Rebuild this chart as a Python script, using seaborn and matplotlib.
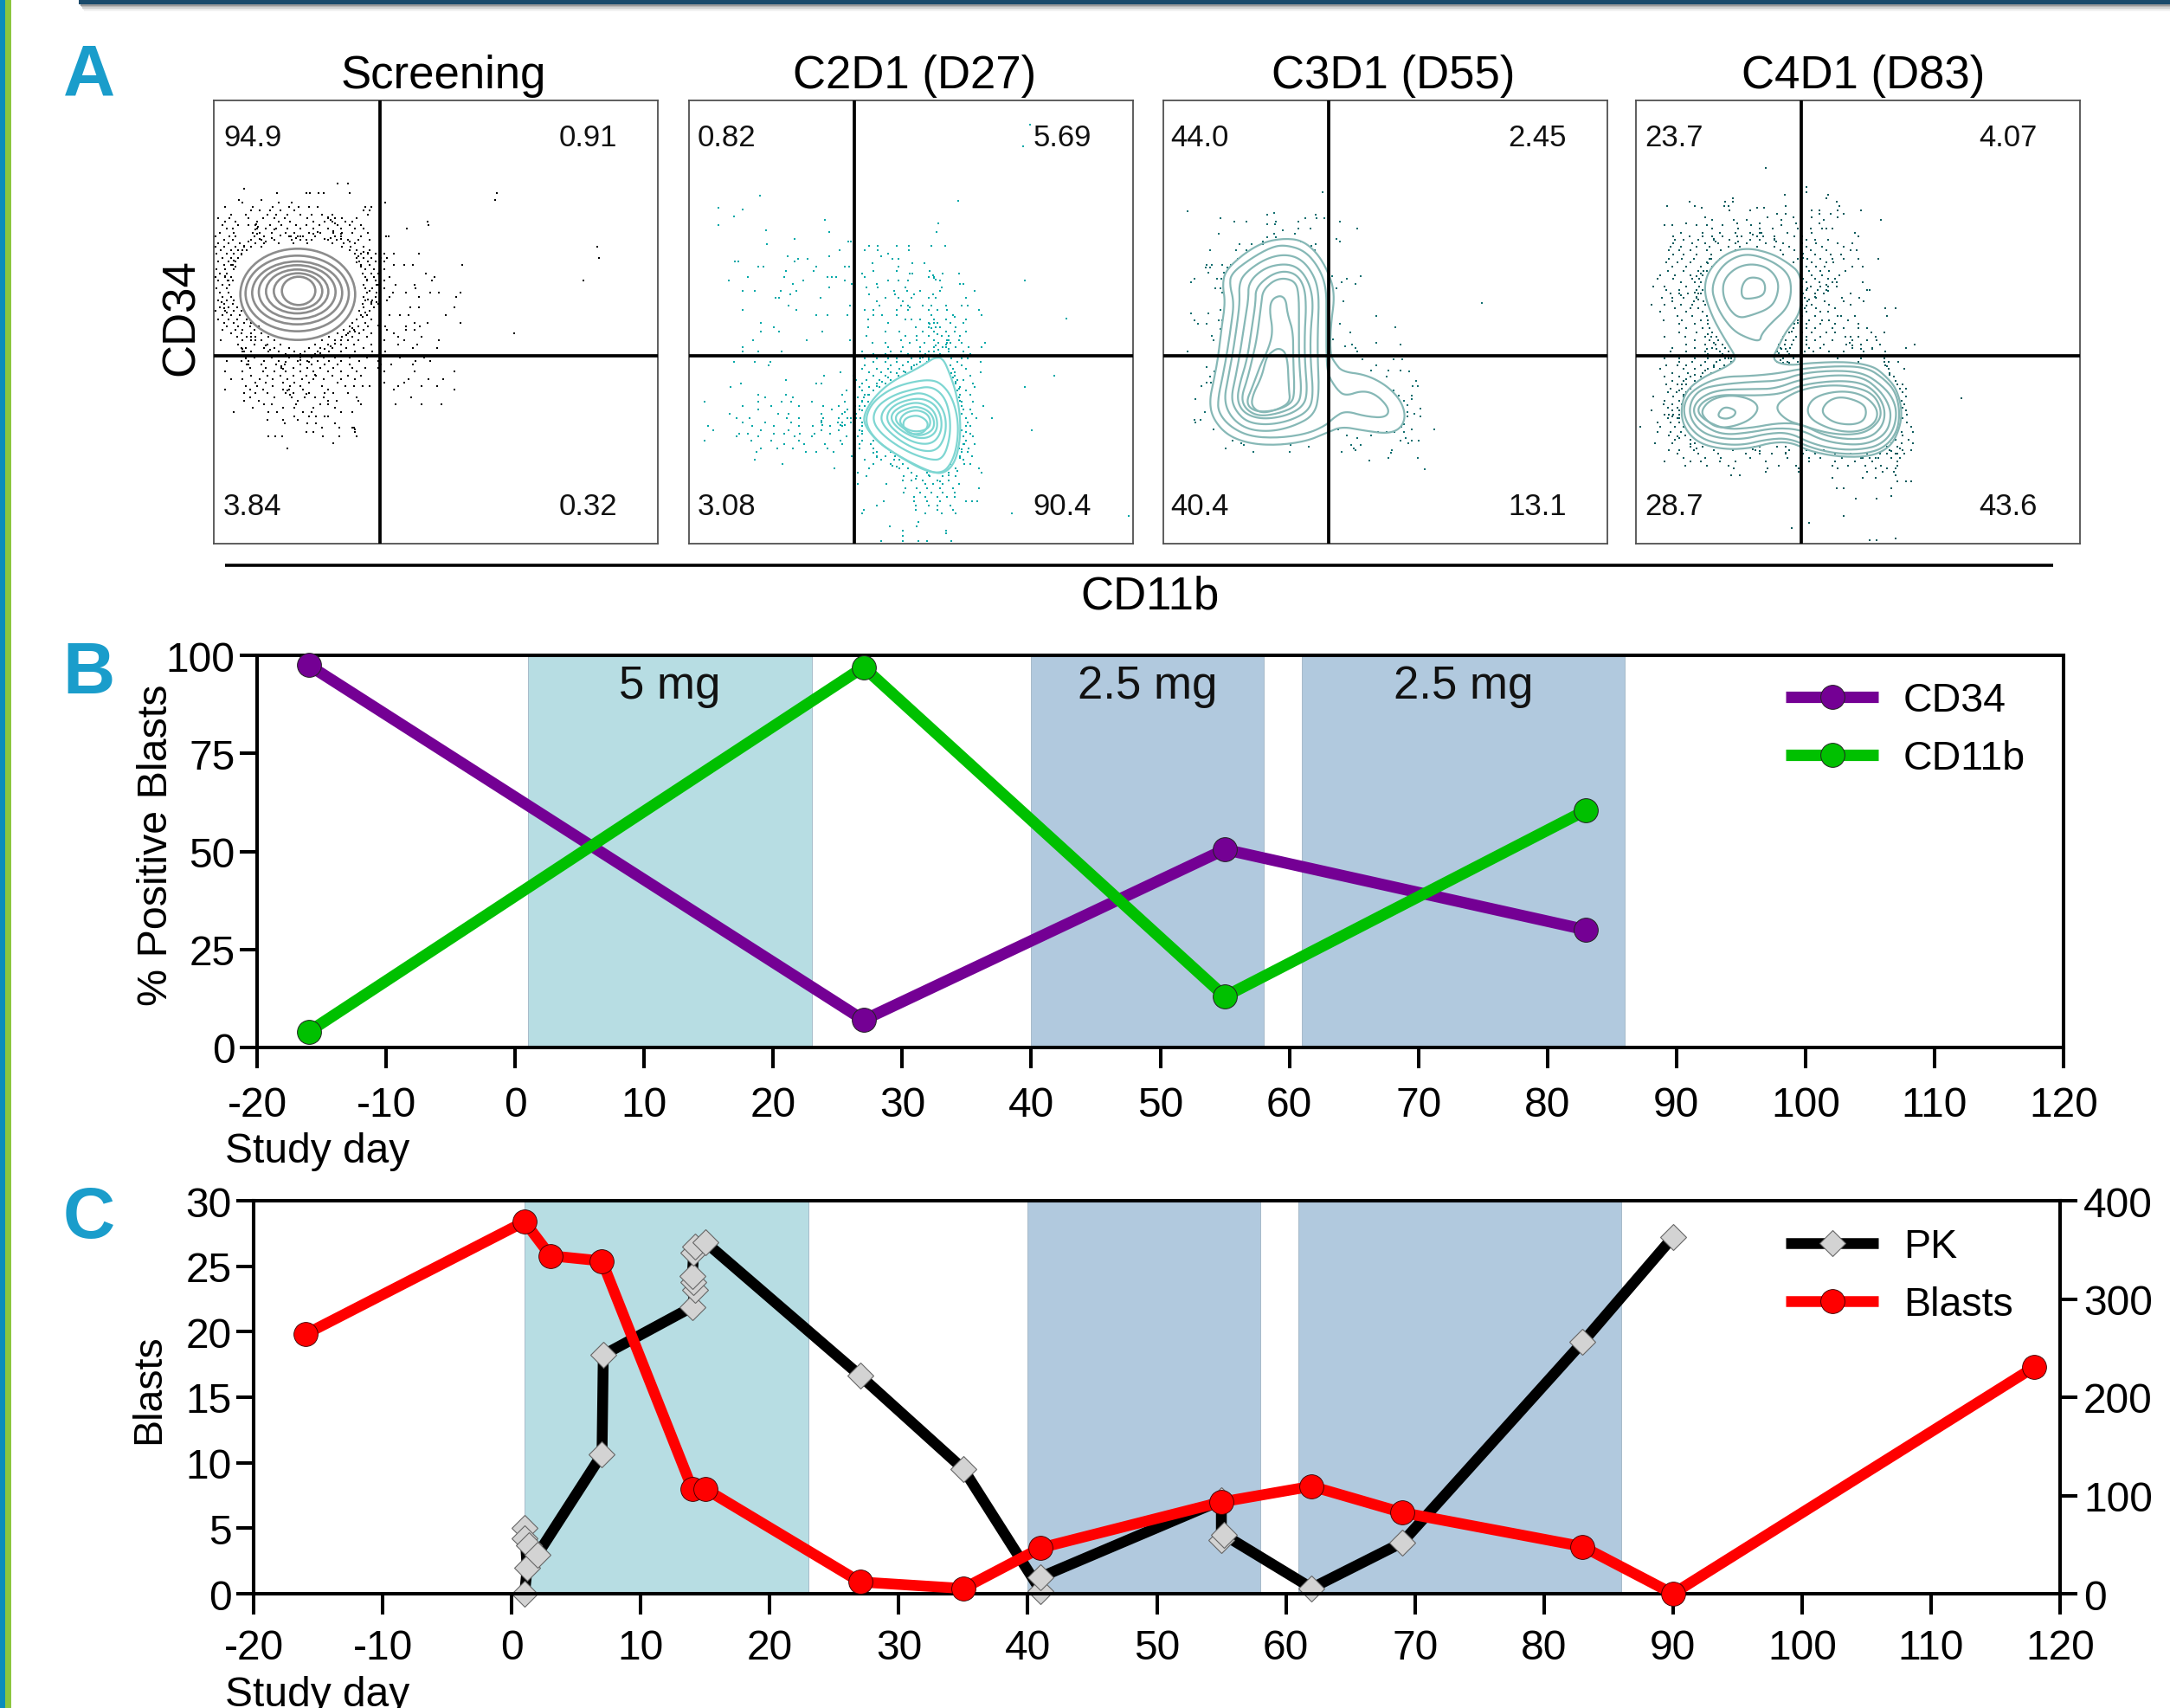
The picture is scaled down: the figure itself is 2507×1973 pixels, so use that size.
import numpy as np
import pandas as pd
import matplotlib
matplotlib.use("Agg")
import matplotlib.pyplot as plt
from matplotlib.lines import Line2D
from matplotlib.patches import Rectangle, Ellipse, FancyBboxPatch
import seaborn as sns

W, H = 2507, 1974
FONT = "Liberation Sans"

# ---------- panel B / C data ----------
TICK_DAYS = list(range(-20, 121, 10))
B_DAYS = [-16, 27, 55, 83]
CD34 = [97.5, 7, 50.5, 30]
CD11B = [4, 97, 13, 60.5]

BLAST_DAYS = [-16, 1, 3, 7, 14, 15, 27, 35, 41, 55, 62, 69, 83, 90, 118]
BLASTS = [19.8, 28.4, 25.8, 25.4, 8.0, 8.0, 0.9, 0.4, 3.5, 7.0, 8.2, 6.2, 3.6, 0.0, 17.3]

PK_DAYS = [1, 1.2, 1, 1, 1.3, 2, 7, 7.1, 14, 14.2, 14.1, 14, 14.1, 14.2, 15, 27, 35, 41, 41, 55, 55, 55.2, 62, 69, 83, 90]
PK = [0, 26, 67, 56, 49, 40, 142, 243, 292, 309, 317, 323, 347, 353, 358, 222, 127, 3, 17, 95, 55, 60, 5.7, 52, 256, 363]

DOSE_SPANS = [(1, 23), (40, 58), (61, 86)]
DOSE_COLORS = ["#b7dde3", "#b1c9de", "#b1c9de"]
DOSE_LABELS = ["5 mg", "2.5 mg", "2.5 mg"]
DOSE_LABEL_X = [12, 49, 73.5]

# ---------- panel A data (positions in a 1539 x 1536 plot frame) ----------
TITLES = ["Screening", "C2D1 (D27)", "C3D1 (D55)", "C4D1 (D83)"]
QUAD_TEXT = [["94.9", "0.91", "3.84", "0.32"],
             ["0.82", "5.69", "3.08", "90.4"],
             ["44.0", "2.45", "40.4", "13.1"],
             ["23.7", "4.07", "28.7", "43.6"]]

SCREEN_RINGS = [(291, 672, 199, 158), (289, 669, 179, 131), (289, 667, 156, 109), (289, 664, 133, 93),
                (289, 662, 108, 76), (292, 661, 84, 62), (294, 660, 58, 49)]

SCREEN_DOTS = {288: [428, 465], 305: [105], 322: [218, 320, 332, 363, 380, 470, 980], 345: [88, 165, 975],
    355: [100, 225, 270, 595], 370: [38, 135, 205, 260, 295, 330, 360, 525, 545], 382: [130, 160, 195, 230, 280, 520, 540],
    395: [60, 110, 185, 215, 255, 300, 340, 375, 410, 535], 408: [15, 55, 120, 170, 210, 245, 325, 395, 420, 445, 495],
    420: [40, 75, 150, 225, 265, 345, 385, 410, 455, 480, 740], 432: [30, 85, 120, 145, 195, 235, 285, 320, 365, 430, 470, 510, 745],
    445: [45, 65, 150, 180, 215, 255, 300, 345, 395, 440, 490, 520, 668], 458: [20, 70, 135, 160, 200, 250, 280, 330, 370, 415, 445, 480, 535],
    470: [5, 55, 75, 140, 175, 260, 290, 310, 350, 420, 440, 510, 598, 605], 482: [35, 65, 130, 165, 210, 270, 300, 340, 395, 425, 465, 500, 540],
    494: [15, 50, 90, 145, 175, 225, 275, 325, 410, 450, 490], 506: [5, 35, 75, 105, 130, 165, 445, 475, 520, 1328],
    518: [25, 60, 100, 115, 470, 495, 540], 530: [10, 45, 70, 95, 490, 510, 535, 560, 590, 625, 710],
    545: [30, 60, 85, 495, 520, 545, 580, 600, 1335], 558: [15, 50, 75, 505, 535, 560, 590], 570: [35, 65, 510, 540, 625, 660, 690, 860],
    585: [10, 40, 70, 525, 555, 590], 600: [20, 45, 515, 545, 570, 735], 612: [5, 40, 60, 525, 555, 610, 765],
    624: [15, 50, 65, 530, 560, 590, 755, 1280], 640: [30, 55, 520, 565, 630, 695], 652: [10, 45, 525, 550, 590, 700],
    665: [20, 50, 530, 565, 620, 665, 750, 780, 855], 680: [30, 60, 520, 560, 610, 710, 840], 692: [15, 45, 70, 525, 550, 600],
    705: [35, 65, 515, 545, 570], 718: [20, 50, 80, 520, 555, 680, 710, 835], 730: [5, 40, 70, 95, 505, 540, 575],
    745: [30, 60, 90, 510, 530, 610, 645, 675, 805], 758: [15, 50, 80, 115, 495, 545], 770: [35, 70, 105, 130, 480, 525, 695, 740, 855],
    782: [45, 85, 125, 155, 470, 500, 535, 595, 665, 715], 795: [30, 75, 100, 140, 450, 485, 520, 600, 665, 695],
    808: [60, 95, 130, 165, 430, 465, 505, 545, 625, 1040], 820: [80, 115, 145, 190, 400, 445, 480, 530, 640, 720],
    832: [25, 100, 130, 165, 210, 375, 420, 465, 500, 590, 660, 780], 845: [85, 140, 185, 230, 350, 395, 440, 485, 545, 640, 705],
    858: [95, 110, 175, 210, 260, 330, 370, 410, 460, 520, 690, 775], 870: [100, 130, 190, 225, 280, 315, 360, 400, 440, 490, 550, 595],
    890: [110, 140, 200, 260, 300, 340, 380, 420, 470, 530, 645, 730], 902: [45, 95, 120, 175, 225, 290, 325, 360, 400, 440, 505, 570, 700, 750],
    915: [115, 165, 215, 245, 300, 340, 385, 430, 470, 580, 615, 690], 928: [125, 180, 235, 275, 325, 370, 415, 480, 525, 570],
    940: [40, 100, 170, 210, 250, 300, 345, 395, 440, 495, 590, 695, 835], 953: [130, 185, 230, 275, 320, 355, 410, 465, 510],
    966: [60, 100, 160, 205, 255, 305, 345, 380, 440, 490, 675, 745, 795], 978: [145, 180, 240, 280, 330, 430, 590, 660],
    990: [110, 150, 205, 265, 300, 375, 455, 485, 515, 540, 640, 720, 775], 1002: [40, 125, 170, 240, 260, 310, 395, 625, 835],
    1015: [105, 145, 185, 250, 275, 330, 385, 415, 465], 1028: [125, 210, 270, 315, 350, 380, 495, 685], 1040: [105, 155, 290, 395, 425, 500],
    1052: [175, 200, 285, 370, 395, 510, 630, 720, 790], 1066: [135, 240, 280, 345, 420], 1080: [70, 190, 220, 310, 340, 440, 480],
    1095: [280, 330, 355, 385, 395], 1108: [185, 240, 290], 1120: [245, 325, 355, 420], 1135: [375, 435, 485], 1150: [320, 345, 490],
    1165: [190, 212, 236, 378, 435, 495], 1188: [415], 1205: [255]}

SCREEN_EXTRA = [(148, 428), (152, 438), (145, 446), (210, 448), (232, 468), (268, 472), (285, 476), (300, 470), (345, 462), (360, 455), (415, 452), (440, 462), (405, 478), (385, 480), (150, 462), (160, 480), (180, 488), (200, 478), (320, 482), (440, 480), (470, 490), (395, 405), (405, 415), (420, 425), (120, 488), (105, 505), (85, 520), (95, 535), (70, 555), (60, 570), (75, 575), (40, 610), (48, 625), (55, 640), (35, 720), (45, 735), (28, 700), (500, 540), (520, 525), (535, 528), (495, 560), (510, 575), (530, 620), (540, 660), (535, 690), (545, 700), (525, 735), (515, 750), (480, 790), (490, 800), (470, 800), (460, 812), (440, 830), (420, 842), (405, 852), (385, 862), (370, 875), (350, 880), (130, 820), (145, 830), (100, 860), (105, 870), (180, 850), (195, 865), (210, 885), (250, 880), (300, 880), (250, 905), (235, 920), (300, 900), (330, 905), (110, 895), (120, 915), (255, 1005), (265, 1020), (320, 1018), (480, 1135), (490, 1140), (240, 930), (350, 950), (570, 640), (565, 700), (570, 780), (575, 610)]

C2_DOTS = {85: [1182], 160: [1158], 330: [245], 348: [932], 372: [102], 378: [185], 402: [155], 415: [470], 425: [865], 432: [102],
    450: [268], 455: [485, 858], 480: [365], 490: [552, 560], 497: [270], 505: [625, 655, 720, 762, 840, 888], 518: [522, 610, 655, 762],
    530: [690], 540: [342, 485, 665], 550: [378, 410, 705, 725], 558: [160, 172, 365], 565: [635, 775, 815], 575: [240, 258, 442, 540, 555, 725],
    590: [335, 432, 638, 720, 835], 600: [600, 765, 775, 880, 935], 612: [205, 330, 480, 495, 510, 610, 830, 850], 625: [138, 395, 540, 690, 725, 760, 870, 1165],
    635: [360, 565, 650, 940, 950], 648: [485, 615, 655, 750, 875], 660: [185, 228, 318, 372, 710, 755, 800, 870, 990], 672: [350, 625, 715, 780, 845],
    685: [300, 312, 455, 680, 725, 770, 830, 855, 960], 695: [650, 740], 710: [345, 558, 660, 735, 760, 810, 840, 890, 945, 965],
    725: [185, 372, 610, 640, 720, 760, 830, 860, 895, 1005], 745: [440, 480, 550, 640, 670, 720, 840, 915, 1015], 757: [1307],
    760: [620, 750, 770, 800, 850, 890, 960], 770: [250, 690, 830, 860, 905, 950], 785: [295, 620, 785, 830, 870, 925],
    800: [250, 312, 462, 680, 730, 810, 850, 890, 920, 960], 815: [615, 750, 790, 830, 875, 900, 940], 830: [222, 408, 558, 735, 790, 850, 900, 935],
    840: [635, 680, 765, 815, 865, 895, 945, 1025], 855: [185, 690, 740, 800, 850, 890, 925, 970, 1015], 870: [185, 240, 320, 600, 700, 735, 800, 830, 900, 950],
    878: [640, 680, 760, 870, 975], 895: [610, 650, 690, 720, 770, 800, 830, 910, 945, 965], 905: [155, 228, 282, 640, 680, 720, 760, 825, 930, 1010],
    918: [275, 610, 700, 740, 780, 810, 905, 945], 930: [600, 650, 690, 730, 770, 915, 960], 942: [525, 625, 665, 700, 750, 920, 1010],
    955: [468, 570, 640, 680, 725, 920, 975, 1265], 968: [335, 580, 615, 660, 700, 930, 950], 980: [180, 440, 460, 600, 650, 680, 925, 985],
    992: [145, 590, 625, 660, 940, 990, 1165], 1005: [545, 600, 640, 930, 960], 1020: [240, 335, 530, 610, 625, 940, 975], 1030: [265, 360, 585, 605, 935],
    1045: [55, 240, 320, 355, 425, 540, 600, 620, 945, 985], 1060: [185, 285, 380, 465, 520, 575, 610, 945, 1020], 1072: [240, 495, 550, 590, 950, 975],
    1085: [140, 310, 345, 460, 530, 580, 945, 980], 1100: [165, 210, 340, 380, 465, 520, 560, 595, 960, 995, 1050], 1115: [185, 265, 355, 460, 515, 560, 600, 965],
    1128: [65, 220, 295, 380, 430, 490, 530, 600, 960, 975], 1142: [85, 250, 345, 460, 520, 590, 945, 1187], 1155: [175, 205, 295, 330, 385, 435, 490, 600, 975],
    1165: [165, 240, 365, 425, 545, 585, 950, 985], 1180: [55, 215, 285, 380, 525, 600, 640, 960], 1192: [330, 400, 470, 530, 590, 630, 955, 990],
    1205: [250, 305, 360, 480, 590, 640, 935, 970], 1218: [235, 405, 440, 500, 650, 700, 945, 965], 1232: [565, 650, 680, 715, 940, 980],
    1245: [228, 610, 665, 710, 730, 950], 1260: [325, 640, 700, 740, 905, 975], 1275: [505, 625, 730, 760, 925, 1005], 1290: [585, 770, 825, 900, 1015],
    1303: [615, 745, 790, 835, 880, 925], 1318: [740, 770, 810, 860, 900], 1330: [585, 685, 820, 845, 880, 935], 1345: [750, 790, 825, 870, 915, 1005],
    1360: [745, 800, 840, 880, 920], 1375: [780, 820, 860, 895, 920], 1390: [675, 780, 825, 870, 960, 980, 1000], 1405: [650, 785, 830, 860, 905],
    1418: [605, 785, 860, 915], 1432: [600, 820, 875, 925, 1120], 1440: [1525], 1462: [795], 1475: [695, 790], 1490: [740, 890], 1500: [890], 1510: [740],
    1528: [665, 740, 795, 825, 910]}

C2_EXTRA = [(850, 770), (855, 785), (835, 775), (840, 790), (850, 800), (860, 810), (895, 830), (905, 840), (890, 845), (880, 855), (900, 860), (855, 850), (865, 865), (850, 870), (820, 880), (810, 890), (830, 900), (800, 905), (790, 915), (770, 925), (745, 940), (720, 945), (690, 960), (670, 975), (650, 990), (640, 1005), (620, 1020), (600, 1040), (590, 1060), (600, 1075), (580, 1100), (600, 1145), (590, 1190), (640, 1220), (650, 1235), (705, 1265), (720, 1270), (770, 1290), (785, 1310), (830, 1300), (870, 1320), (900, 1300), (930, 1285), (955, 1260), (940, 1240), (945, 1210), (950, 1190), (960, 1150), (945, 1060), (940, 1040), (935, 1000), (925, 975), (915, 960), (910, 945), (540, 1080), (550, 1100), (530, 1115), (525, 1125), (540, 1125), (460, 1110), (462, 1125), (915, 745), (920, 750), (850, 615), (845, 605), (855, 620), (760, 712), (765, 718)]

C3_DOTS = {318: [552], 385: [84], 390: [383], 395: [360, 528], 408: [198, 492, 532, 558], 420: [246, 288, 390, 468, 612], 430: [360, 388],
    445: [468, 510, 672], 450: [414], 462: [192, 384, 456], 475: [360, 390], 480: [600], 490: [345, 478, 612], 497: [264, 306, 345, 528], 505: [514],
    520: [162, 252, 288, 525], 550: [258], 570: [150, 168, 204, 235], 580: [148, 162, 222], 598: [156, 210], 610: [586, 684], 618: [108, 186, 202, 636],
    630: [96, 618], 635: [665], 650: [180, 198, 600], 665: [205], 695: [624], 702: [1104], 725: [198], 738: [96, 156], 748: [738], 762: [108, 192, 205],
    775: [120, 150, 612], 785: [803], 792: [198], 803: [648], 815: [168], 828: [588], 832: [174], 840: [738], 845: [654, 822], 852: [630], 858: [666],
    870: [84, 672], 898: [690, 798, 828], 918: [738], 925: [150], 935: [720, 780, 822], 940: [176, 852], 958: [162, 775], 972: [875], 978: [150, 165],
    990: [132, 865, 882], 1005: [798], 1022: [815, 860], 1035: [110, 862], 1040: [835], 1055: [845], 1068: [892], 1080: [145, 845], 1085: [870],
    1095: [845, 892], 1108: [108, 130], 1115: [112], 1122: [835], 1130: [825], 1140: [175, 605, 862, 940], 1150: [745, 775, 800, 835], 1160: [635, 720],
    1170: [672, 840], 1180: [240, 822, 862, 885], 1188: [270, 850], 1195: [280, 440, 650, 684], 1200: [505], 1206: [216, 660], 1212: [665, 792],
    1218: [312, 438, 618], 1222: [790], 1238: [780, 882], 1248: [714], 1278: [906]}

C4_DOTS = {233: [450], 300: [592], 318: [590], 328: [515, 665], 338: [335, 660], 352: [185, 310, 335, 695], 365: [108, 205, 305, 320, 518, 705],
    372: [228, 420, 445], 380: [325, 395, 610, 635, 700, 780], 392: [490, 520, 635, 675, 720], 405: [240, 455, 545, 610, 700], 415: [265, 340, 385, 505, 650, 850],
    425: [175, 350, 430, 555, 635], 432: [100, 125, 210, 245, 300, 400, 505], 445: [265, 355, 430, 475, 560, 605, 645, 660, 680],
    458: [155, 230, 290, 345, 395, 435, 525, 610, 760], 470: [130, 185, 230, 265, 300, 365, 420, 480, 550, 770],
    482: [135, 165, 215, 270, 325, 395, 430, 480, 590, 620, 665], 495: [130, 195, 240, 285, 345, 385, 450, 510, 575, 625, 700, 750],
    508: [120, 155, 210, 255, 320, 360, 420, 480, 530, 590, 645, 720], 520: [115, 150, 190, 245, 295, 345, 500, 550, 605, 660, 745, 765],
    535: [130, 165, 210, 260, 510, 575, 620, 675, 710], 548: [115, 160, 200, 255, 290, 560, 595, 640, 680, 720, 770, 840],
    560: [105, 145, 190, 245, 280, 545, 610, 660, 685], 575: [125, 175, 225, 265, 590, 625, 655, 750, 785], 590: [110, 165, 215, 245, 600, 640, 670, 725],
    605: [85, 135, 190, 230, 570, 610, 645, 705], 618: [75, 130, 195, 220, 580, 620, 665, 690], 630: [155, 205, 225, 590, 635, 680, 785],
    645: [60, 100, 175, 220, 575, 605, 640, 665, 695], 658: [105, 150, 210, 230, 590, 630, 660, 800, 810], 670: [120, 180, 215, 225, 580, 620, 650, 745],
    685: [90, 125, 165, 210, 585, 625, 715, 775], 695: [125, 200, 235, 595, 655, 720, 790], 708: [55, 100, 155, 195, 240, 575, 610, 670, 745],
    720: [135, 190, 215, 585, 625, 690, 865, 900], 732: [85, 175, 230, 590, 640, 665], 748: [145, 195, 245, 575, 620, 700, 710, 760, 870],
    762: [95, 160, 225, 250, 560, 600, 645, 670, 735], 775: [150, 205, 250, 550, 590, 640, 690, 770], 790: [175, 230, 255, 545, 590, 620, 680, 720, 770, 800],
    805: [150, 210, 265, 530, 575, 610, 660, 690, 815, 860], 818: [100, 170, 240, 280, 510, 555, 590, 640, 725, 745, 770, 830],
    830: [205, 255, 285, 505, 545, 590, 620, 680, 750, 800, 835], 845: [175, 240, 275, 300, 495, 540, 590, 650, 730, 780, 845, 965],
    858: [125, 205, 265, 310, 500, 535, 600, 640, 750, 820, 935], 870: [120, 175, 240, 290, 320, 490, 525, 585, 615, 670, 720, 790, 865],
    895: [100, 150, 205, 250, 310, 330, 480, 510, 545, 700, 780, 860], 905: [150, 195, 240, 280, 330, 490, 525, 560, 770, 875, 910],
    918: [105, 145, 175, 225, 270, 305, 865], 930: [85, 165, 205, 250, 290, 875, 930], 945: [125, 180, 230, 260, 880], 958: [100, 150, 190, 225, 895],
    972: [125, 165, 205, 900], 985: [105, 145, 175, 905, 925], 998: [120, 160, 190, 915, 935], 1012: [110, 140, 175, 925], 1025: [60, 130, 165, 935],
    1032: [1128], 1040: [100, 150, 920], 1052: [95, 125, 160, 930], 1065: [110, 145, 925], 1075: [55, 125, 150, 935], 1088: [100, 130, 150, 940],
    1100: [110, 145, 925], 1115: [75, 120, 150, 940], 1130: [15, 85, 135, 165, 955], 1148: [75, 120, 155, 920, 960], 1160: [115, 170, 925],
    1175: [135, 190, 900, 945], 1188: [65, 125, 205, 885, 920, 960], 1200: [190, 230, 410, 430, 490, 520, 870, 905],
    1212: [115, 150, 200, 270, 335, 415, 530, 590, 650, 880, 925, 955], 1225: [145, 215, 285, 380, 430, 470, 520, 575, 620, 690, 745, 800, 845, 900, 930],
    1238: [165, 240, 295, 395, 525, 600, 640, 715, 785, 830, 885, 915], 1250: [100, 190, 225, 290, 345, 450, 600, 690, 760, 820, 905],
    1265: [170, 245, 320, 495, 555, 680, 735, 795, 850, 905], 1275: [340, 455, 565, 700, 830, 870, 900], 1288: [450, 565, 800, 855, 895], 1300: [330, 360, 900],
    1308: [680, 785, 830], 1320: [905, 935, 955], 1345: [695, 720, 885], 1372: [885], 1380: [762, 835], 1440: [720], 1465: [600], 1482: [540], 1518: [900], 1525: [810, 835]}

C4_EXTRA = [(150, 670), (155, 675), (205, 665), (210, 680), (215, 690), (260, 550), (250, 565), (235, 590), (225, 600), (210, 610), (270, 480), (275, 490), (350, 470), (355, 490), (405, 465), (430, 460), (440, 470), (480, 480), (485, 490), (575, 470), (580, 530), (578, 545), (590, 630), (595, 650), (600, 690), (590, 710), (585, 720), (620, 680), (660, 640), (665, 660), (680, 630), (695, 630), (650, 670), (560, 770), (540, 800), (520, 830), (515, 845), (505, 860), (495, 875), (520, 860), (530, 880), (545, 890), (500, 900), (510, 910), (530, 910), (250, 810), (260, 820), (270, 840), (280, 860), (245, 860), (250, 880), (300, 880), (320, 895), (290, 900), (270, 925), (240, 935), (205, 950), (175, 965), (160, 985), (150, 1005), (165, 1020), (125, 1095), (115, 1090), (150, 1100), (145, 1165), (150, 1170), (190, 1190), (210, 1205), (335, 1210), (405, 1210), (430, 1215), (520, 1222), (580, 1225), (780, 1240), (810, 1240), (840, 1240), (870, 1225), (885, 1215), (905, 1225), (915, 1205), (920, 1150), (925, 1160), (860, 905), (870, 920), (880, 950), (740, 840), (820, 860), (780, 860), (750, 850)]

C2_CONTOURS = [
    [(850, 892), (880, 892), (905, 950), (925, 1010), (940, 1090), (940, 1180), (920, 1260), (880, 1295), (830, 1285), (740, 1240), (660, 1190), (610, 1130), (605, 1090), (640, 1030), (700, 975), (790, 930), (830, 905)],
    [(845, 965), (890, 995), (920, 1050), (935, 1130), (925, 1220), (895, 1280), (860, 1292), (810, 1280), (730, 1235), (650, 1180), (610, 1120), (625, 1060), (680, 1010), (750, 980)],
    [(840, 990), (885, 1025), (905, 1090), (905, 1170), (880, 1245), (830, 1245), (750, 1215), (670, 1160), (635, 1110), (650, 1060), (710, 1020), (780, 1000)],
    [(810, 1012), (860, 1040), (890, 1090), (890, 1160), (860, 1215), (800, 1215), (730, 1180), (670, 1125), (665, 1085), (700, 1045), (760, 1020)],
    [(800, 1030), (850, 1050), (875, 1095), (875, 1150), (845, 1190), (790, 1190), (730, 1160), (685, 1115), (690, 1075), (730, 1045)],
    [(795, 1045), (840, 1065), (860, 1100), (860, 1145), (830, 1170), (785, 1170), (735, 1145), (700, 1110), (705, 1080), (745, 1055)],
    [(790, 1060), (830, 1075), (850, 1105), (848, 1140), (815, 1160), (780, 1160), (740, 1135), (715, 1110), (720, 1085), (755, 1068)],
    [(790, 1072), (825, 1085), (838, 1110), (832, 1135), (800, 1148), (765, 1145), (735, 1125), (730, 1105), (750, 1082)],
    [(790, 1090), (820, 1105), (830, 1125), (815, 1150), (785, 1158), (755, 1150), (740, 1125), (750, 1100)],
]

C3_CONTOURS = [
    [(420, 478), (480, 485), (530, 525), (570, 590), (595, 670), (580, 780), (578, 880), (595, 910), (620, 940), (700, 950), (770, 985), (820, 1035), (840, 1090), (825, 1135), (780, 1155), (700, 1145), (620, 1130), (570, 1150), (500, 1180), (400, 1195), (300, 1190), (220, 1160), (170, 1100), (160, 1040), (175, 970), (190, 890), (200, 800), (215, 700), (205, 640), (215, 590), (280, 530), (350, 490)],
    [(420, 500), (490, 520), (540, 580), (565, 650), (565, 750), (565, 880), (570, 950), (600, 1000), (630, 1025), (690, 1005), (740, 1020), (785, 1070), (770, 1100), (700, 1095), (630, 1075), (590, 1100), (565, 1125), (500, 1155), (400, 1170), (300, 1165), (230, 1130), (190, 1080), (190, 1030), (205, 960), (220, 880), (235, 780), (245, 700), (230, 640), (235, 600), (300, 550), (370, 510)],
    [(420, 532), (480, 550), (525, 610), (540, 680), (535, 800), (535, 900), (540, 1010), (525, 1090), (450, 1130), (370, 1148), (290, 1140), (235, 1100), (210, 1040), (225, 960), (240, 880), (255, 780), (265, 700), (262, 640), (280, 600), (350, 550)],
    [(420, 565), (470, 580), (505, 630), (520, 700), (510, 800), (510, 900), (520, 1020), (505, 1075), (440, 1110), (360, 1125), (290, 1115), (250, 1075), (235, 1030), (250, 960), (265, 880), (280, 780), (295, 690), (295, 630), (350, 580)],
    [(420, 590), (465, 605), (490, 650), (495, 720), (490, 800), (490, 900), (500, 1020), (480, 1065), (420, 1095), (340, 1105), (280, 1085), (255, 1040), (265, 980), (290, 900), (305, 800), (320, 700), (320, 650), (370, 605)],
    [(420, 615), (460, 630), (470, 680), (470, 780), (470, 900), (480, 1020), (460, 1060), (400, 1085), (330, 1095), (285, 1070), (270, 1030), (290, 970), (310, 890), (325, 820), (340, 700), (345, 660), (380, 625)],
    [(405, 675), (425, 690), (430, 740), (450, 800), (450, 900), (455, 1010), (445, 1050), (390, 1075), (320, 1080), (285, 1050), (310, 990), (335, 920), (365, 860), (380, 800), (368, 730), (375, 690)],
    [(365, 880), (400, 855), (430, 880), (435, 1000), (440, 1045), (400, 1070), (340, 1085), (305, 1060), (310, 1020), (340, 960), (355, 900)],
]

C4_CONTOURS = [
    [(345, 885), (340, 905), (300, 930), (230, 960), (170, 1010), (155, 1080), (170, 1140), (220, 1190), (310, 1210), (400, 1205), (470, 1185), (540, 1185), (600, 1215), (700, 1235), (800, 1235), (860, 1215), (900, 1175), (925, 1090), (905, 1000), (860, 950), (820, 920), (730, 905), (600, 910), (540, 918), (490, 910), (475, 890), (490, 860), (520, 800), (565, 745), (575, 680), (570, 600), (530, 565), (470, 530), (385, 510), (310, 530), (250, 590), (235, 660), (260, 740), (300, 815)],
    [(390, 530), (470, 555), (530, 600), (540, 660), (525, 720), (470, 770), (435, 810), (430, 835), (390, 825), (340, 800), (300, 750), (275, 700), (262, 650), (285, 590), (330, 548)],
    [(400, 565), (460, 580), (495, 625), (490, 680), (465, 720), (400, 745), (355, 755), (320, 720), (300, 670), (305, 620), (345, 580)],
    [(405, 612), (440, 620), (450, 650), (440, 678), (395, 688), (368, 685), (365, 650), (380, 620)],
    [(290, 958), (400, 955), (500, 945), (570, 930), (700, 920), (800, 925), (860, 965), (900, 1010), (915, 1080), (905, 1150), (860, 1205), (790, 1225), (700, 1225), (610, 1205), (530, 1170), (450, 1175), (370, 1195), (280, 1190), (215, 1165), (170, 1110), (165, 1050), (200, 1000)],
    [(290, 985), (400, 975), (500, 972), (575, 945), (700, 935), (790, 945), (850, 985), (890, 1030), (905, 1085), (890, 1150), (845, 1195), (780, 1210), (700, 1210), (610, 1190), (530, 1150), (450, 1155), (370, 1175), (280, 1170), (220, 1145), (185, 1095), (190, 1040), (225, 1000)],
    [(280, 1003), (400, 1000), (480, 1000), (575, 965), (700, 950), (790, 960), (845, 1005), (875, 1050), (885, 1095), (870, 1150), (820, 1185), (750, 1195), (650, 1180), (570, 1140), (480, 1135), (400, 1150), (300, 1160), (230, 1125), (195, 1080), (215, 1035)],
    [(290, 1020), (370, 1022), (440, 1022), (510, 1015), (575, 985), (700, 970), (790, 980), (840, 1020), (865, 1075), (855, 1130), (810, 1170), (730, 1175), (650, 1160), (570, 1120), (490, 1118), (400, 1135), (310, 1140), (240, 1110), (210, 1075), (235, 1040)],
    [(330, 1020), (400, 1035), (428, 1065), (400, 1105), (340, 1130), (280, 1135), (240, 1105), (225, 1075), (260, 1035)],
    [(575, 1000), (500, 1040), (485, 1072), (525, 1110), (575, 1125), (650, 1150), (730, 1160), (800, 1150), (845, 1110), (850, 1070), (825, 1020), (770, 995), (680, 985)],
    [(710, 1005), (790, 1020), (840, 1070), (830, 1120), (770, 1150), (690, 1145), (610, 1110), (590, 1070), (620, 1025)],
    [(715, 1025), (790, 1050), (800, 1085), (785, 1115), (740, 1125), (680, 1115), (640, 1080), (665, 1040)],
    [(315, 1062), (348, 1075), (340, 1095), (310, 1105), (282, 1095), (295, 1070)],
]

DOT_COLORS = ["#000000", "#00a8a8", "#126f70", "#0a5a5c"]
LINE_COLORS = ["#8c8c8c", "#7ed6d2", "#86b8b6", "#86b6b4"]
ACCENT = "#1a9dcb"

sns.set_theme(style="white")
plt.rcParams["font.family"] = [FONT, "DejaVu Sans"]
plt.rcParams["axes.unicode_minus"] = False
plt.rcParams["lines.solid_capstyle"] = "butt"

fig = plt.figure(figsize=(W / 100, H / 100), dpi=100, facecolor="white")


def box(left, top, right, bottom):
    return [left / W, 1 - bottom / H, (right - left) / W, (bottom - top) / H]


def fx(x):
    return x / W


def fy(y):
    return 1 - y / H


def smooth(points, rounds=3):
    pts = np.array(points + points[:1], float)
    for _ in range(rounds):
        q = 0.75 * pts[:-1] + 0.25 * pts[1:]
        r = 0.25 * pts[:-1] + 0.75 * pts[1:]
        pts = np.empty((2 * len(q), 2))
        pts[0::2], pts[1::2] = q, r
        pts = np.vstack([pts, pts[:1]])
    return pts


def flat(rows, extra=()):
    xs, ys = [], []
    for y, row in rows.items():
        xs += row
        ys += [y] * len(row)
    for a, b in extra:
        xs.append(a)
        ys.append(b)
    return xs, ys


# page furniture
fig.add_artist(Rectangle((0, 0), fx(6), 1, transform=fig.transFigure, color="#0b8dbb", lw=0))
fig.add_artist(Rectangle((fx(6), 0), fx(7), 1, transform=fig.transFigure, color="#8cc63f", lw=0))
for i, a in enumerate([0.55, 0.4, 0.28, 0.18, 0.1, 0.05]):
    fig.add_artist(Rectangle((fx(92 + i), fy(6 + i * 1.5)), 1, 1.5 / H, transform=fig.transFigure, color="black", alpha=a, lw=0))
fig.add_artist(Rectangle((fx(91), fy(5.5)), 1, 5.5 / H, transform=fig.transFigure, color="#1a4a6b", lw=0))

# ---------- Panel A ----------
FRAME_LEFT = [247, 796, 1344, 1890]
V_GATE = [575, 573, 573, 573]
TITLE_X = [0.517, 0.507, 0.517, 0.511]
LEFT_TEXT_X = [33, 30, 25, 30]
RIGHT_TEXT_X = [1197, 1193, 1195, 1190]
ALL_DOTS = [SCREEN_DOTS, C2_DOTS, C3_DOTS, C4_DOTS]
ALL_EXTRA = [SCREEN_EXTRA, C2_EXTRA, [], C4_EXTRA]
ALL_CONTOURS = [None, C2_CONTOURS, C3_CONTOURS, C4_CONTOURS]

for k in range(4):
    ax = fig.add_axes(box(FRAME_LEFT[k], 117, FRAME_LEFT[k] + 513, 629))
    ax.set_xlim(0, 1539)
    ax.set_ylim(1536, 0)
    xs, ys = flat(ALL_DOTS[k], ALL_EXTRA[k])
    sns.scatterplot(x=xs, y=ys, s=3.8, color=DOT_COLORS[k], linewidth=0, marker="s", ax=ax, zorder=2)
    if k == 0:
        for cx, cy, rx, ry in SCREEN_RINGS:
            ax.add_patch(Ellipse((cx, cy), 2 * rx, 2 * ry, fill=False, ec=LINE_COLORS[0], lw=1.9, zorder=3))
    else:
        for ring in ALL_CONTOURS[k]:
            p = smooth(ring)
            ax.plot(p[:, 0], p[:, 1], color=LINE_COLORS[k], lw=1.6, zorder=3)
    ax.axvline(V_GATE[k], color="black", lw=2.7, zorder=4)
    ax.axhline(885, color="black", lw=2.7, zorder=4)
    ax.set_xticks([])
    ax.set_yticks([])
    ax.set_xlabel("")
    ax.set_ylabel("")
    for s in ax.spines.values():
        s.set_visible(True)
        s.set_color("#505050")
        s.set_linewidth(1.3)
    ax.set_title(TITLES[k], x=TITLE_X[k], pad=11, fontsize=38, color="black", family=FONT)
    q = QUAD_TEXT[k]
    kw = dict(fontsize=25, va="baseline", color="#111111", zorder=5)
    ax.text(LEFT_TEXT_X[k], 155, q[0], ha="left", **kw)
    ax.text(RIGHT_TEXT_X[k], 155, q[1], ha="left", **kw)
    ax.text(LEFT_TEXT_X[k], 1433, q[2], ha="left", **kw)
    ax.text(RIGHT_TEXT_X[k], 1433, q[3], ha="left", **kw)
    if k == 0:
        ax.set_ylabel("CD34", fontsize=38, color="black")
        ax.yaxis.set_label_coords(fx(235), fy(367), transform=fig.transFigure)

fig.add_artist(Line2D([fx(260), fx(2372)], [fy(654), fy(654)], transform=fig.transFigure, color="black", lw=2.6))
fig.text(fx(1329), fy(703), "CD11b", fontsize=38, ha="center", va="baseline", color="black")


def style_axis(ax, pad):
    ax.set_xlim(-20, 120)
    ax.set_xticks(TICK_DAYS)
    ax.set_xticklabels([str(t) for t in TICK_DAYS])
    ax.tick_params(axis="x", bottom=True, length=17, width=2.9, labelsize=34.5, pad=pad, color="black", labelcolor="black")
    for s in ax.spines.values():
        s.set_visible(True)
        s.set_color("black")
        s.set_linewidth(2.9)


def panel_legend(ax, handles, labels, top):
    ax.legend(handles, labels, loc="upper left", bbox_to_anchor=(fx(2063), fy(top)), bbox_transform=fig.transFigure,
              frameon=False, fontsize=33.5, handlelength=2.3, handletextpad=0.62, labelspacing=0.5, borderpad=0,
              borderaxespad=0, numpoints=1, labelcolor="black")


LW_B = 9.5
LW_C = 9

# ---------- Panel B ----------
axb = fig.add_axes(box(297, 758, 2384, 1211))
for (a, b), c in zip(DOSE_SPANS, DOSE_COLORS):
    axb.axvspan(a, b, facecolor=c, edgecolor="#9fb4c4", lw=0.6, zorder=0)
b_df = pd.DataFrame({"day": B_DAYS, "CD34": CD34, "CD11b": CD11B})
sns.lineplot(data=b_df, x="day", y="CD34", color="#740094", linewidth=LW_B, marker="o", ms=20, mec="#222222", mew=0.7, mfc="#740094",
             label="CD34", ax=axb, zorder=3, clip_on=False, legend=False)
sns.lineplot(data=b_df, x="day", y="CD11b", color="#00c000", linewidth=LW_B, marker="o", ms=20, mec="#222222", mew=0.7, mfc="#00c000",
             label="CD11b", ax=axb, zorder=4, clip_on=False, legend=False)
style_axis(axb, 15)
axb.set_ylim(0, 100)
axb.set_yticks([0, 25, 50, 75, 100])
axb.tick_params(axis="y", left=True, length=14.5, width=2.9, labelsize=34.5, pad=4, color="black", labelcolor="black")
axb.set_ylabel("% Positive Blasts", fontsize=34.8, color="black")
axb.yaxis.set_label_coords(fx(203), fy(976), transform=fig.transFigure)
axb.set_xlabel("Study day", fontsize=34.5, color="black", ha="left", va="center")
axb.xaxis.set_label_coords(fx(260), fy(1331), transform=fig.transFigure)
for xv, t in zip(DOSE_LABEL_X, DOSE_LABELS):
    axb.text(xv, 92.3, t, fontsize=38, ha="center", va="center", color="#111111", zorder=5)
h, l = axb.get_legend_handles_labels()
panel_legend(axb, h, l, 788)

# ---------- Panel C ----------
axc = fig.add_axes(box(293, 1388, 2380, 1842))
axr = axc.twinx()
axc.set_zorder(2)
axr.set_zorder(1)
axc.patch.set_visible(False)
for (a, b), c in zip(DOSE_SPANS, DOSE_COLORS):
    axr.axvspan(a, b, facecolor=c, edgecolor="#9fb4c4", lw=0.6, zorder=0)
pk_df = pd.DataFrame({"day": PK_DAYS, "PK": PK})
blast_df = pd.DataFrame({"day": BLAST_DAYS, "Blasts": BLASTS})
sns.lineplot(data=pk_df, x="day", y="PK", estimator=None, sort=False, color="black", linewidth=LW_C, marker="D", ms=15, mfc="#d3d3d3",
             mec="#666666", mew=0.8, label="PK", ax=axr, zorder=3, clip_on=False, legend=False)
sns.lineplot(data=blast_df, x="day", y="Blasts", estimator=None, sort=False, color="#ff0000", linewidth=LW_C, marker="o", ms=20, mfc="#ff0000",
             mec="#330000", mew=0.6, label="Blasts", ax=axc, zorder=4, clip_on=False, legend=False)
style_axis(axc, 11.5)
style_axis(axr, 11.5)
axc.set_ylim(0, 30)
axc.set_yticks(list(range(0, 31, 5)))
axc.tick_params(axis="y", left=True, length=14.5, width=2.9, labelsize=34.5, pad=4, color="black", labelcolor="black")
axr.set_ylim(0, 400)
axr.set_yticks([0, 100, 200, 300, 400])
axr.tick_params(axis="y", right=True, left=False, length=14.5, width=2.9, labelsize=34.5, pad=5, color="black", labelcolor="black")
axr.set_ylabel("")
axc.set_ylabel("Blasts", fontsize=33.5, color="black")
axc.yaxis.set_label_coords(fx(194), fy(1605), transform=fig.transFigure)
axc.set_xlabel("Study day", fontsize=34.5, color="black", ha="left", va="center")
axc.xaxis.set_label_coords(fx(260), fy(1959), transform=fig.transFigure)
axr.set_xlabel("")
h1, l1 = axr.get_legend_handles_labels()
h2, l2 = axc.get_legend_handles_labels()
panel_legend(axc, h1 + h2, l1 + l2, 1419)

# panel letters
for letter, base in zip("ABC", [110, 801, 1430]):
    fig.text(fx(103), fy(base), letter, fontsize=60, fontweight="bold", color=ACCENT, ha="center", va="baseline")

fig.savefig("out.png", dpi=100, facecolor="white")
